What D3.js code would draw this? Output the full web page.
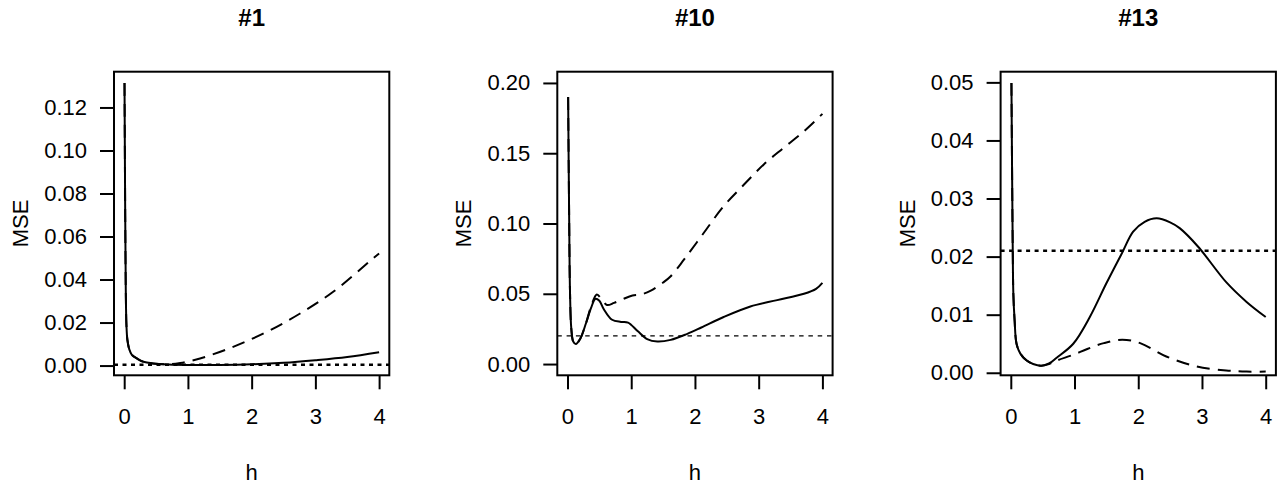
<!DOCTYPE html>
<html>
<head>
<meta charset="utf-8">
<script src="https://cdn.jsdelivr.net/npm/d3@7"></script>
<style>
  html, body { margin: 0; padding: 0; background: #fff; }
  svg { display: block; font-family: "Liberation Sans", Arial, Helvetica, sans-serif; }
</style>
</head>
<body>
<svg id="chart" width="1283" height="485"></svg>
<script>
// ---- data -------------------------------------------------------------
const titles = ["#1", "#10", "#13"];
const xTicks = [0, 1, 2, 3, 4];

// #1
const hSolid1   = [0.005, 0.015, 0.025, 0.035, 0.05, 0.08, 0.12, 0.2, 0.3, 0.45, 0.7, 1.0, 1.5, 2.0, 2.5, 3.0, 3.5, 4.0];
const mseSolid1 = [0.1314, 0.075, 0.035, 0.019, 0.012, 0.0075, 0.005, 0.0033, 0.0018, 0.001, 0.0005, 0.0003, 0.0003, 0.0006, 0.0013, 0.0025, 0.004, 0.0062];
const hDash1    = [0.005, 0.015, 0.025, 0.035, 0.05, 0.08, 0.12, 0.2, 0.3, 0.45, 0.7, 0.88, 1.19, 1.71, 2.24, 2.76, 3.28, 3.86, 4.0];
const mseDash1  = [0.1314, 0.075, 0.035, 0.019, 0.012, 0.0075, 0.005, 0.0033, 0.0018, 0.001, 0.0006, 0.0012, 0.0033, 0.0087, 0.0157, 0.0242, 0.0343, 0.0487, 0.0521];

// #10
const hSolid2   = [0.01, 0.025, 0.04, 0.06, 0.09, 0.13, 0.2, 0.29, 0.37, 0.44, 0.5, 0.57, 0.7, 0.84, 0.95, 1.1, 1.25, 1.41, 1.62, 1.88, 2.1, 2.45, 2.87, 3.29, 3.71, 3.9, 4.0];
const mseSolid2 = [0.19, 0.11, 0.05, 0.025, 0.016, 0.0142, 0.018, 0.029, 0.04, 0.0465, 0.045, 0.039, 0.0315, 0.03, 0.0295, 0.0235, 0.0178, 0.016, 0.0172, 0.0215, 0.026, 0.0335, 0.041, 0.0455, 0.05, 0.0535, 0.0578];
const hDash2    = [0.01, 0.025, 0.04, 0.06, 0.09, 0.13, 0.2, 0.29, 0.37, 0.46, 0.53, 0.62, 0.73, 0.86, 1.02, 1.15, 1.3, 1.5, 1.62, 1.83, 2.14, 2.45, 2.77, 3.08, 3.39, 3.71, 4.0];
const mseDash2  = [0.19, 0.11, 0.05, 0.025, 0.016, 0.0142, 0.018, 0.029, 0.041, 0.0495, 0.0465, 0.042, 0.0435, 0.046, 0.0488, 0.0495, 0.052, 0.058, 0.0625, 0.0744, 0.0934, 0.1123, 0.1277, 0.142, 0.1538, 0.1656, 0.178];

// #13
const hSolid3   = [0.01, 0.02, 0.03, 0.04, 0.06, 0.09, 0.15, 0.25, 0.35, 0.48, 0.6, 0.72, 0.98, 1.24, 1.5, 1.74, 1.92, 2.1, 2.29, 2.5, 2.65, 2.94, 3.38, 3.7, 4.0];
const mseSolid3 = [0.0499, 0.035, 0.022, 0.0136, 0.009, 0.005, 0.0033, 0.0021, 0.0015, 0.0012, 0.0016, 0.0026, 0.005, 0.0096, 0.0154, 0.0205, 0.0243, 0.026, 0.0266, 0.0259, 0.0249, 0.0217, 0.0156, 0.0122, 0.0096];
const hDash3    = [0.01, 0.02, 0.03, 0.04, 0.06, 0.09, 0.15, 0.25, 0.35, 0.48, 0.6, 0.72, 0.98, 1.2, 1.46, 1.75, 2.03, 2.44, 2.91, 3.38, 3.7, 4.0];
const mseDash3  = [0.0499, 0.035, 0.022, 0.0136, 0.009, 0.005, 0.0033, 0.0021, 0.0015, 0.0012, 0.0015, 0.0021, 0.0031, 0.0041, 0.0051, 0.0057, 0.0051, 0.0028, 0.0011, 0.0004, 0.0002, 0.0002];

// horizontal reference level in each panel
const refLevel = [0.0004, 0.02, 0.021];

// y-axis limits and ticks per panel
const yLimits = [[0.0007, 0.1314], [0, 0.2], [0.0015, 0.0499]];
const yTicks  = [
  [0, 0.02, 0.04, 0.06, 0.08, 0.10, 0.12],
  [0, 0.05, 0.10, 0.15, 0.20],
  [0, 0.01, 0.02, 0.03, 0.04, 0.05]
];

const panels = [
  { solid: [hSolid1, mseSolid1], dash: [hDash1, mseDash1], refStyle: "dot" },
  { solid: [hSolid2, mseSolid2], dash: [hDash2, mseDash2], refStyle: "thin" },
  { solid: [hSolid3, mseSolid3], dash: [hDash3, mseDash3], refStyle: "dot" }
];

// ---- layout -----------------------------------------------------------
const svg = d3.select("#chart");
const boxW = 275.3, boxTop = 71.7, boxBottom = 375.3, step = 443.3, firstLeft = 114;
const fmt = d3.format(".2f");

// R-style 4% axis extension
function extend(lim) {
  const r = lim[1] - lim[0];
  return [lim[0] - 0.04 * r, lim[1] + 0.04 * r];
}

panels.forEach((p, i) => {
  const left = firstLeft + i * step, right = left + boxW;
  const x = d3.scaleLinear().domain(extend([0, 4])).range([left, right]);
  const y = d3.scaleLinear().domain(extend(yLimits[i])).range([boxBottom, boxTop]);
  const g = svg.append("g");

  const clipId = "clip" + i;
  svg.append("clipPath").attr("id", clipId)
    .append("rect").attr("x", left).attr("y", boxTop).attr("width", boxW).attr("height", boxBottom - boxTop);

  const line = d3.line().x(d => x(d[0])).y(d => y(d[1])).curve(d3.curveCatmullRom.alpha(0.5));
  const zip = (a, b) => a.map((v, k) => [v, b[k]]);

  const plot = g.append("g").attr("clip-path", `url(#${clipId})`);

  // reference level
  const ref = plot.append("line")
    .attr("x1", left).attr("x2", right)
    .attr("y1", y(refLevel[i])).attr("y2", y(refLevel[i]))
    .attr("stroke", "#000").attr("fill", "none");
  if (p.refStyle === "dot") ref.attr("stroke-width", 2.6).attr("stroke-dasharray", "4,4.5");
  else ref.attr("stroke-width", 1.2).attr("stroke-dasharray", "4.5,4.8");

  // solid curve
  plot.append("path").datum(zip(p.solid[0], p.solid[1]))
    .attr("d", line).attr("fill", "none").attr("stroke", "#000")
    .attr("stroke-width", 2).attr("stroke-linejoin", "round");

  // dashed curve
  plot.append("path").datum(zip(p.dash[0], p.dash[1]))
    .attr("d", line).attr("fill", "none").attr("stroke", "#000")
    .attr("stroke-width", 2).attr("stroke-dasharray", "13,8");

  // frame
  g.append("rect")
    .attr("x", left).attr("y", boxTop).attr("width", boxW).attr("height", boxBottom - boxTop)
    .attr("fill", "none").attr("stroke", "#000").attr("stroke-width", 2);

  // x axis
  const xAxis = d3.axisBottom(x).tickValues(xTicks).tickSize(14).tickPadding(19).tickFormat(d3.format("d"));
  const xa = g.append("g").attr("transform", `translate(0,${boxBottom})`).call(xAxis);
  xa.select(".domain").remove();
  xa.selectAll(".tick line").attr("stroke-width", 2);
  xa.selectAll(".tick text").attr("font-size", 22).attr("fill", "#000")
    .attr("font-family", "Liberation Sans, Arial, sans-serif");

  // y axis
  const yAxis = d3.axisLeft(y).tickValues(yTicks[i]).tickSize(14).tickPadding(13).tickFormat(fmt);
  const ya = g.append("g").attr("transform", `translate(${left},0)`).call(yAxis);
  ya.select(".domain").remove();
  ya.selectAll(".tick line").attr("stroke-width", 2);
  ya.selectAll(".tick text").attr("font-size", 22).attr("fill", "#000")
    .attr("font-family", "Liberation Sans, Arial, sans-serif");

  // labels
  g.append("text").attr("x", (left + right) / 2).attr("y", 26)
    .attr("text-anchor", "middle").attr("font-size", 24).attr("font-weight", "bold")
    .text(titles[i]);
  g.append("text").attr("x", (left + right) / 2).attr("y", 480)
    .attr("text-anchor", "middle").attr("font-size", 22).text("h");
  g.append("text")
    .attr("transform", `translate(${left - 86},${(boxTop + boxBottom) / 2}) rotate(-90)`)
    .attr("text-anchor", "middle").attr("font-size", 22).text("MSE");
});
</script>
</body>
</html>
